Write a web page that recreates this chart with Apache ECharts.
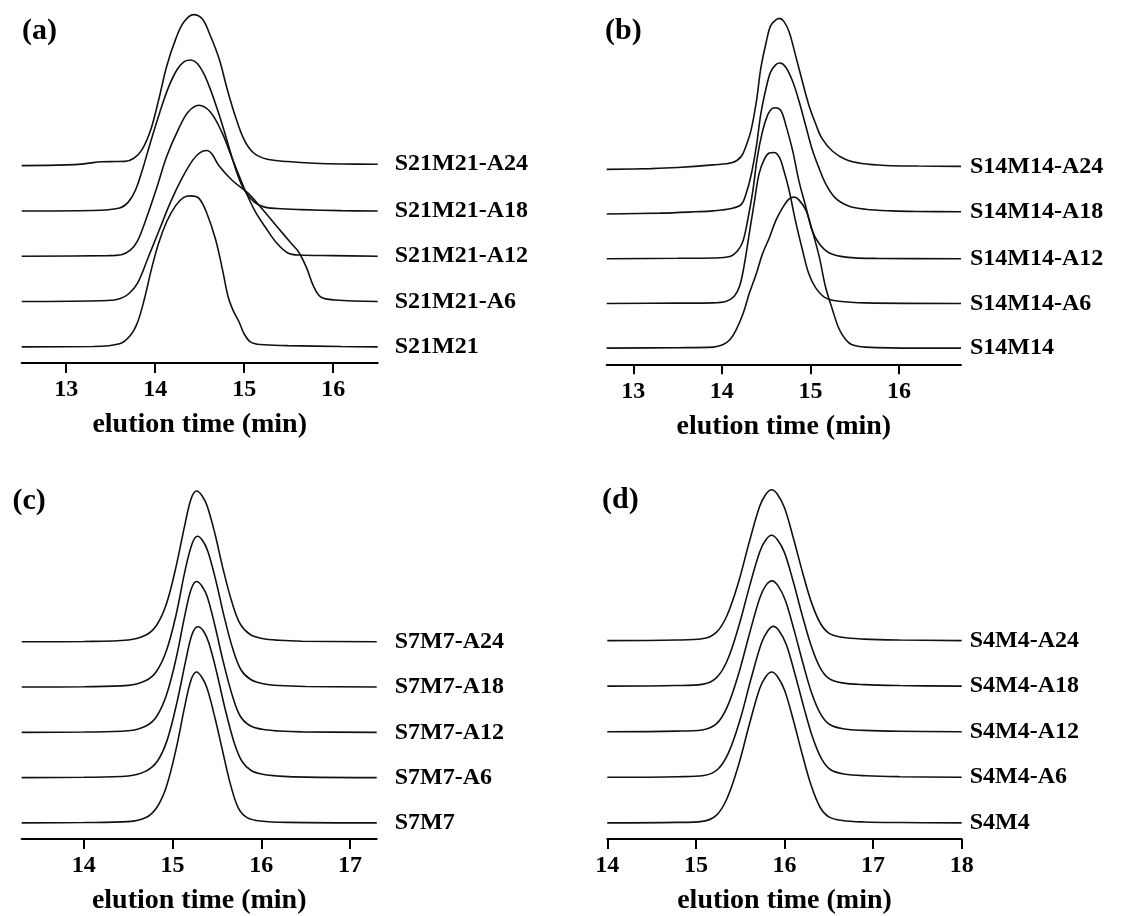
<!DOCTYPE html>
<html>
<head>
<meta charset="utf-8">
<script src="https://cdn.jsdelivr.net/npm/echarts@6/dist/echarts.min.js"></script>
<style>html,body{margin:0;padding:0;background:#fff}#c{width:1137px;height:916px}</style>
</head>
<body>
<div id="c"></div>
<script>
// ---------------- DATA ----------------
// x ranges and tick labels
const rangeA = [12.5, 16.5], ticksA = [13, 14, 15, 16];
const rangeB = [12.7, 16.7], ticksB = [13, 14, 15, 16];
const rangeC = [13.3, 17.3], ticksC = [14, 15, 16, 17];
const rangeD = [14, 18],     ticksD = [14, 15, 16, 17, 18];
const xTitle = 'elution time (min)';
const tags = ['(a)', '(b)', '(c)', '(d)'];

// names, bottom trace first
const namesA = ['S21M21', 'S21M21-A6', 'S21M21-A12', 'S21M21-A18', 'S21M21-A24'];
const namesB = ['S14M14', 'S14M14-A6', 'S14M14-A12', 'S14M14-A18', 'S14M14-A24'];
const namesC = ['S7M7', 'S7M7-A6', 'S7M7-A12', 'S7M7-A18', 'S7M7-A24'];
const namesD = ['S4M4', 'S4M4-A6', 'S4M4-A12', 'S4M4-A18', 'S4M4-A24'];

// normalized detector signal [time (min), signal]
const a_S21M21 = [[12.5,0],[13.3,0.002],[13.6,0.02],[13.72,0.075],[13.80,0.16],[13.88,0.32],[13.96,0.52],[14.04,0.69],[14.13,0.83],[14.23,0.935],[14.32,0.99],[14.40,1.0],[14.49,0.985],[14.58,0.885],[14.68,0.708],[14.76,0.5],[14.82,0.33],[14.88,0.235],[14.94,0.168],[15.0,0.085],[15.07,0.033],[15.18,0.015],[15.49,0.008],[16.09,0.002],[16.5,0]];
const a_A6 = [[12.5,0],[13.47,0.007],[13.6,0.018],[13.70,0.05],[13.80,0.12],[13.92,0.29],[14.05,0.48],[14.17,0.655],[14.30,0.815],[14.42,0.935],[14.50,0.985],[14.58,1.0],[14.64,0.975],[14.71,0.905],[14.87,0.8],[15.04,0.72],[15.2,0.615],[15.37,0.495],[15.53,0.385],[15.61,0.33],[15.70,0.225],[15.78,0.1],[15.86,0.03],[16.02,0.01],[16.5,0]];
const a_A12 = [[12.5,0],[13.47,0.004],[13.62,0.01],[13.72,0.04],[13.80,0.1],[13.90,0.25],[14.01,0.44],[14.13,0.662],[14.26,0.84],[14.37,0.955],[14.49,1.0],[14.62,0.955],[14.75,0.82],[14.87,0.64],[15.0,0.45],[15.12,0.30],[15.24,0.19],[15.37,0.084],[15.49,0.022],[15.61,0.008],[16.0,0.004],[16.5,0]];
const a_A18 = [[12.5,0],[13.3,0.003],[13.6,0.02],[13.7,0.06],[13.78,0.14],[13.86,0.28],[13.95,0.46],[14.05,0.65],[14.15,0.82],[14.25,0.94],[14.33,0.99],[14.40,1.0],[14.47,0.978],[14.55,0.905],[14.62,0.805],[14.70,0.67],[14.77,0.54],[14.85,0.38],[14.92,0.25],[15.0,0.14],[15.11,0.06],[15.22,0.027],[15.37,0.016],[15.64,0.009],[16.09,0.002],[16.5,0]];
const a_A24 = [[12.5,0],[13.0,0.005],[13.2,0.012],[13.4,0.026],[13.55,0.027],[13.66,0.028],[13.76,0.049],[13.85,0.104],[13.95,0.238],[14.04,0.438],[14.13,0.66],[14.23,0.838],[14.32,0.949],[14.43,1.0],[14.53,0.971],[14.62,0.86],[14.72,0.704],[14.81,0.504],[14.90,0.327],[15.0,0.171],[15.11,0.082],[15.26,0.042],[15.49,0.027],[15.79,0.016],[16.09,0.011],[16.5,0.009]];

const b_S14M14 = [[12.7,0],[13.5,0.003],[13.90,0.007],[14.01,0.022],[14.09,0.055],[14.16,0.12],[14.24,0.23],[14.31,0.363],[14.39,0.495],[14.46,0.626],[14.54,0.736],[14.61,0.846],[14.69,0.934],[14.76,0.989],[14.816,1.0],[14.87,0.982],[14.95,0.912],[15.02,0.78],[15.10,0.604],[15.17,0.407],[15.25,0.253],[15.32,0.132],[15.40,0.055],[15.47,0.022],[15.62,0.007],[16.22,0],[16.7,0]];
const b_A6 = [[12.7,0],[13.5,0.002],[13.90,0.004],[14.05,0.015],[14.14,0.048],[14.2,0.114],[14.25,0.245],[14.31,0.464],[14.37,0.683],[14.42,0.858],[14.48,0.956],[14.535,0.996],[14.59,1.0],[14.65,0.967],[14.70,0.88],[14.76,0.748],[14.83,0.55],[14.91,0.354],[14.98,0.2],[15.06,0.103],[15.17,0.037],[15.32,0.015],[15.62,0.004],[16.7,0]];
const b_A12 = [[12.7,0],[13.5,0.003],[13.90,0.005],[14.09,0.015],[14.18,0.055],[14.24,0.12],[14.29,0.25],[14.35,0.45],[14.40,0.67],[14.46,0.846],[14.52,0.956],[14.57,0.996],[14.61,1.0],[14.67,0.978],[14.72,0.89],[14.80,0.714],[14.87,0.516],[14.95,0.34],[15.02,0.187],[15.10,0.099],[15.21,0.04],[15.40,0.011],[15.77,0.002],[16.7,0]];
const b_A18 = [[12.7,0],[13.3,0.006],[13.7,0.015],[13.9,0.021],[14.12,0.039],[14.22,0.064],[14.27,0.128],[14.33,0.257],[14.39,0.45],[14.44,0.664],[14.50,0.835],[14.55,0.94],[14.61,0.99],[14.655,1.0],[14.72,0.974],[14.80,0.878],[14.87,0.75],[14.95,0.578],[15.02,0.428],[15.10,0.30],[15.17,0.203],[15.28,0.107],[15.43,0.054],[15.62,0.032],[15.92,0.021],[16.22,0.017],[16.7,0.015]];
const b_A24 = [[12.7,0],[13.2,0.005],[13.5,0.012],[13.9,0.03],[14.12,0.045],[14.22,0.086],[14.27,0.15],[14.33,0.26],[14.39,0.45],[14.44,0.67],[14.50,0.84],[14.55,0.95],[14.61,0.99],[14.65,1.0],[14.70,0.98],[14.76,0.91],[14.83,0.76],[14.91,0.58],[14.98,0.43],[15.06,0.30],[15.13,0.205],[15.25,0.12],[15.40,0.065],[15.58,0.039],[15.85,0.026],[16.22,0.022],[16.7,0.02]];

const c_S7M7 = [[13.3,0],[14.0,0.002],[14.5,0.008],[14.7,0.035],[14.82,0.1],[14.93,0.24],[15.04,0.49],[15.14,0.78],[15.21,0.95],[15.27,1.0],[15.33,0.965],[15.39,0.89],[15.48,0.69],[15.57,0.46],[15.65,0.26],[15.74,0.1],[15.84,0.035],[15.99,0.012],[16.3,0.003],[17.3,0]];
const c_A6 = [[13.3,0],[14.0,0.002],[14.5,0.011],[14.7,0.043],[14.83,0.11],[14.94,0.25],[15.05,0.5],[15.15,0.78],[15.22,0.95],[15.285,1.0],[15.35,0.97],[15.41,0.89],[15.5,0.69],[15.59,0.46],[15.69,0.24],[15.78,0.11],[15.89,0.045],[16.03,0.02],[16.2,0.01],[16.5,0.003],[17.3,0]];
const c_A12 = [[13.3,0],[14.0,0.002],[14.5,0.01],[14.7,0.042],[14.82,0.105],[14.93,0.245],[15.04,0.49],[15.14,0.78],[15.21,0.95],[15.27,1.0],[15.33,0.97],[15.39,0.9],[15.48,0.7],[15.57,0.47],[15.67,0.25],[15.76,0.11],[15.87,0.045],[16.01,0.02],[16.2,0.009],[16.46,0.003],[17.3,0]];
const c_A18 = [[13.3,0],[14.0,0.002],[14.5,0.011],[14.7,0.043],[14.82,0.105],[14.93,0.24],[15.04,0.48],[15.14,0.77],[15.22,0.95],[15.28,1.0],[15.34,0.97],[15.40,0.895],[15.49,0.7],[15.58,0.47],[15.68,0.25],[15.77,0.115],[15.88,0.05],[16.02,0.022],[16.2,0.01],[16.5,0.004],[17.3,0]];
const c_A24 = [[13.3,0],[14.0,0.002],[14.5,0.012],[14.7,0.045],[14.82,0.11],[14.93,0.25],[15.04,0.5],[15.14,0.78],[15.21,0.95],[15.27,1.0],[15.33,0.97],[15.39,0.9],[15.48,0.71],[15.57,0.48],[15.67,0.26],[15.76,0.12],[15.87,0.05],[16.01,0.022],[16.2,0.01],[16.46,0.004],[17.3,0]];

const d_S4M4 = [[14,0],[14.78,0.003],[15.07,0.01],[15.23,0.05],[15.35,0.16],[15.48,0.38],[15.60,0.645],[15.72,0.89],[15.79,0.97],[15.855,1.0],[15.92,0.97],[16.0,0.88],[16.1,0.68],[16.2,0.455],[16.3,0.25],[16.4,0.105],[16.5,0.04],[16.65,0.016],[16.9,0.006],[17.3,0.002],[18,0]];
const d_A6 = [[14,0],[14.8,0.004],[15.09,0.012],[15.25,0.055],[15.37,0.165],[15.5,0.385],[15.62,0.648],[15.74,0.89],[15.81,0.97],[15.875,1.0],[15.94,0.97],[16.02,0.88],[16.12,0.68],[16.22,0.46],[16.32,0.26],[16.42,0.12],[16.52,0.05],[16.67,0.022],[16.92,0.01],[17.3,0.004],[18,0]];
const d_A12 = [[14,0],[14.78,0.004],[15.07,0.012],[15.23,0.052],[15.35,0.16],[15.48,0.38],[15.60,0.64],[15.72,0.885],[15.79,0.97],[15.86,1.0],[15.93,0.965],[16.01,0.87],[16.11,0.67],[16.21,0.45],[16.31,0.25],[16.41,0.115],[16.51,0.048],[16.66,0.02],[16.9,0.009],[17.3,0.003],[18,0]];
const d_A18 = [[14,0],[14.78,0.004],[15.07,0.012],[15.23,0.055],[15.35,0.165],[15.48,0.39],[15.60,0.65],[15.72,0.89],[15.79,0.97],[15.855,1.0],[15.92,0.97],[16.0,0.885],[16.1,0.69],[16.2,0.47],[16.3,0.27],[16.4,0.125],[16.5,0.052],[16.65,0.022],[16.9,0.01],[17.3,0.004],[18,0]];
const d_A24 = [[14,0],[14.78,0.004],[15.07,0.012],[15.23,0.055],[15.35,0.165],[15.48,0.385],[15.60,0.648],[15.72,0.89],[15.79,0.97],[15.855,1.0],[15.92,0.97],[16.0,0.88],[16.1,0.68],[16.2,0.46],[16.3,0.26],[16.4,0.12],[16.5,0.05],[16.65,0.022],[16.9,0.01],[17.3,0.004],[18,0]];

// ---------------- LAYOUT ----------------
const UNIT = 151;      // px per unit of normalized signal
const YMAX = 2.35;
const BASE = 0.107;    // bottom trace baseline above axis (units)
const FONT = '"Liberation Serif", "Times New Roman", serif';

const panels = [
  { range: rangeA, ticks: ticksA, names: namesA, curves: [a_S21M21, a_A6, a_A12, a_A18, a_A24],
    left: 21.7, width: 356, axisY: 363, step: 0.3, labelGap: 17, tagX: 22, tagY: 31.5 },
  { range: rangeB, ticks: ticksB, names: namesB, curves: [b_S14M14, b_A6, b_A12, b_A18, b_A24],
    left: 606.7, width: 354.3, axisY: 364.3, step: 0.296, labelGap: 9, tagX: 605, tagY: 31 },
  { range: rangeC, ticks: ticksC, names: namesC, curves: [c_S7M7, c_A6, c_A12, c_A18, c_A24],
    left: 21.7, width: 355, axisY: 839.3, step: 0.3, labelGap: 18, tagX: 12.5, tagY: 501.5 },
  { range: rangeD, ticks: ticksD, names: namesD, curves: [d_S4M4, d_A6, d_A12, d_A18, d_A24],
    left: 607.3, width: 354.4, axisY: 839.3, step: 0.302, labelGap: 8, tagX: 602, tagY: 500.5 }
];

const grid = [], xAxis = [], yAxis = [], series = [], graphic = [];
panels.forEach((p, i) => {
  const h = UNIT * YMAX;
  grid.push({ left: p.left, top: p.axisY - h, width: p.width, height: h });
  xAxis.push({
    type: 'value', gridIndex: i, min: p.range[0], max: p.range[1],
    name: xTitle, nameLocation: 'middle', nameGap: 48,
    nameTextStyle: { fontFamily: FONT, fontWeight: 'bold', fontSize: 28, color: '#000' },
    axisLine: { show: true, onZero: false, lineStyle: { color: '#000', width: 2 } },
    axisTick: { show: true, length: 10, lineStyle: { color: '#000', width: 2 }, customValues: p.ticks },
    axisLabel: { show: true, margin: 15, fontFamily: FONT, fontWeight: 'bold', fontSize: 24, color: '#000',
                 customValues: p.ticks, formatter: v => String(v) },
    splitLine: { show: false }
  });
  yAxis.push({ type: 'value', gridIndex: i, min: 0, max: YMAX, show: false });
  p.curves.forEach((c, k) => {
    const off = BASE + p.step * k;
    series.push({
      type: 'line', name: p.names[k], xAxisIndex: i, yAxisIndex: i,
      data: c.map(d => [d[0], d[1] + off]),
      smooth: 0.35, showSymbol: false, symbol: 'none', silent: true,
      lineStyle: { color: '#111', width: 1.6 },
      endLabel: { show: true, formatter: p.names[k], distance: p.labelGap,
                  fontFamily: FONT, fontWeight: 'bold', fontSize: 24, color: '#000' },
      animation: false
    });
  });
  graphic.push({ type: 'text', x: p.tagX, y: p.tagY,
    style: { text: tags[i], font: 'bold 30px ' + FONT, fill: '#000', verticalAlign: 'middle', align: 'left' } });
});

const chart = echarts.init(document.getElementById('c'), null, { renderer: 'canvas' });
chart.setOption({ backgroundColor: '#fff', animation: false, grid, xAxis, yAxis, series, graphic });
</script>
</body>
</html>
